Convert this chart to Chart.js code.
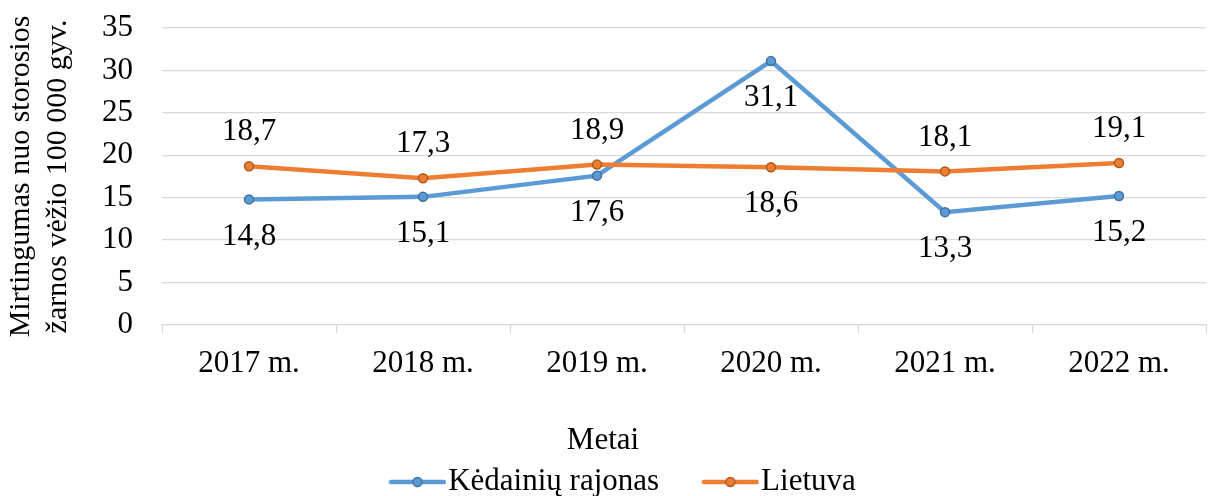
<!DOCTYPE html>
<html lang="lt">
<head>
    <meta charset="UTF-8">
    <title>Mirtingumas nuo storosios žarnos vėžio</title>
    <script src="https://cdn.jsdelivr.net/npm/chart.js"></script>
    <style>
        html, body { margin: 0; padding: 0; background: #fff; }
        .chart-container { width: 1221px; height: 496px; }
    </style>
</head>
<body>
    <div class="chart-container">
        <canvas id="mortalityChart" width="1221" height="496"></canvas>
    </div>

    <script>
const years = ['2017 m.', '2018 m.', '2019 m.', '2020 m.', '2021 m.', '2022 m.'];
const kedainiai = [14.8, 15.1, 17.6, 31.1, 13.3, 15.2];
const lietuva = [18.7, 17.3, 18.9, 18.6, 18.1, 19.1];
// where each value label sits relative to its point
const kedainiaiLabelPos = ['below', 'below', 'below', 'below', 'below', 'below'];
const lietuvaLabelPos = ['above', 'above', 'above', 'below', 'above', 'above'];
const yTicks = [0, 5, 10, 15, 20, 25, 30, 35];

const BLUE = '#5B9BD5', BLUE_DARK = '#41719C';
const ORANGE = '#ED7D31', ORANGE_DARK = '#AE5A21';
const FONT = '"Liberation Serif", "Times New Roman", serif';
const SIZE = 31;

Chart.defaults.font.family = FONT;
Chart.defaults.font.size = SIZE;
Chart.defaults.color = '#000';

// legend swatch: line with a circle marker, transparent strip on the left for spacing
function legendSwatch(color, dark) {
    const c = document.createElement('canvas');
    c.width = 110;
    c.height = 14;
    const g = c.getContext('2d');
    g.strokeStyle = color;
    g.lineWidth = 4.5;
    g.lineCap = 'round';
    g.beginPath();
    g.moveTo(54.5, 7);
    g.lineTo(107.5, 7);
    g.stroke();
    g.beginPath();
    g.arc(81, 7, 4.5, 0, Math.PI * 2);
    g.fillStyle = color;
    g.fill();
    g.lineWidth = 1.5;
    g.strokeStyle = dark;
    g.stroke();
    return c;
}

const valueLabels = {
    id: 'valueLabels',
    afterDatasetsDraw(chart) {
        const ctx = chart.ctx;
        ctx.save();
        ctx.font = SIZE + 'px ' + FONT;
        ctx.fillStyle = '#000';
        ctx.textAlign = 'center';
        ctx.textBaseline = 'middle';
        chart.data.datasets.forEach((ds, i) => {
            chart.getDatasetMeta(i).data.forEach((pt, j) => {
                const up = ds.labelPos[j] === 'above';
                const txt = ds.data[j].toFixed(1).replace('.', ',');
                ctx.fillText(txt, pt.x, pt.y + (up ? -34 : 37));
            });
        });
        ctx.restore();
    }
};

const ctx = document.getElementById('mortalityChart').getContext('2d');

new Chart(ctx, {
    type: 'line',
    data: {
        labels: years,
        datasets: [
            {
                label: 'Kėdainių rajonas',
                data: kedainiai,
                labelPos: kedainiaiLabelPos,
                borderColor: BLUE,
                backgroundColor: BLUE,
                borderWidth: 4.5,
                pointRadius: 4.5,
                pointBackgroundColor: BLUE,
                pointBorderColor: BLUE_DARK,
                pointBorderWidth: 1.5,
                tension: 0,
                order: 1,
                swatch: legendSwatch(BLUE, BLUE_DARK),
            },
            {
                label: 'Lietuva',
                data: lietuva,
                labelPos: lietuvaLabelPos,
                borderColor: ORANGE,
                backgroundColor: ORANGE,
                borderWidth: 4.5,
                pointRadius: 4.5,
                pointBackgroundColor: ORANGE,
                pointBorderColor: ORANGE_DARK,
                pointBorderWidth: 1.5,
                tension: 0,
                order: 0,
                swatch: legendSwatch(ORANGE, ORANGE_DARK),
            },
        ],
    },
    options: {
        responsive: false,
        animation: false,
        layout: {
            padding: { top: 28, right: 15, left: 0, bottom: -11.5 },
        },
        plugins: {
            tooltip: { enabled: false },
            legend: {
                position: 'bottom',
                title: {
                    display: true,
                    text: 'Metai',
                    color: '#000',
                    font: { size: SIZE, lineHeight: 1.2 },
                    padding: 0,
                },
                labels: {
                    usePointStyle: true,
                    pointStyleWidth: 82.5,
                    padding: 4,
                    color: '#000',
                    font: { size: SIZE },
                    generateLabels: (chart) => chart.data.datasets.map((ds, i) => ({
                        text: ds.label,
                        pointStyle: ds.swatch,
                        fillStyle: ds.borderColor,
                        strokeStyle: ds.borderColor,
                        lineWidth: 0,
                        hidden: false,
                        datasetIndex: i,
                    })),
                },
            },
        },
        scales: {
            x: {
                offset: true,
                afterFit: (scale) => { scale.height = 100.3; },
                border: { display: true, color: '#d9d9d9', width: 1.3 },
                grid: {
                    offset: true,
                    drawOnChartArea: false,
                    drawTicks: true,
                    tickLength: 8,
                    tickColor: '#d9d9d9',
                    tickWidth: 1.3,
                },
                ticks: {
                    color: '#000',
                    padding: 12,
                    maxRotation: 0,
                    font: { size: SIZE },
                },
            },
            y: {
                min: 0,
                max: 35,
                afterFit: (scale) => { scale.width = 162; },
                afterBuildTicks: (scale) => { scale.ticks = yTicks.map(v => ({ value: v })); },
                border: { display: false },
                grid: {
                    color: '#d9d9d9',
                    lineWidth: 1.3,
                    drawTicks: true,
                    tickLength: 29,
                    tickColor: 'rgba(0,0,0,0)',
                },
                ticks: {
                    color: '#000',
                    padding: 0,
                    autoSkip: false,
                    font: { size: SIZE },
                },
                title: {
                    display: true,
                    text: ['Mirtingumas nuo storosios', 'žarnos vėžio 100 000 gyv.'],
                    color: '#000',
                    font: { size: 30, lineHeight: 1.22 },
                    padding: { top: 3, bottom: 0 },
                },
            },
        },
    },
    plugins: [valueLabels],
});
    </script>
</body>
</html>
